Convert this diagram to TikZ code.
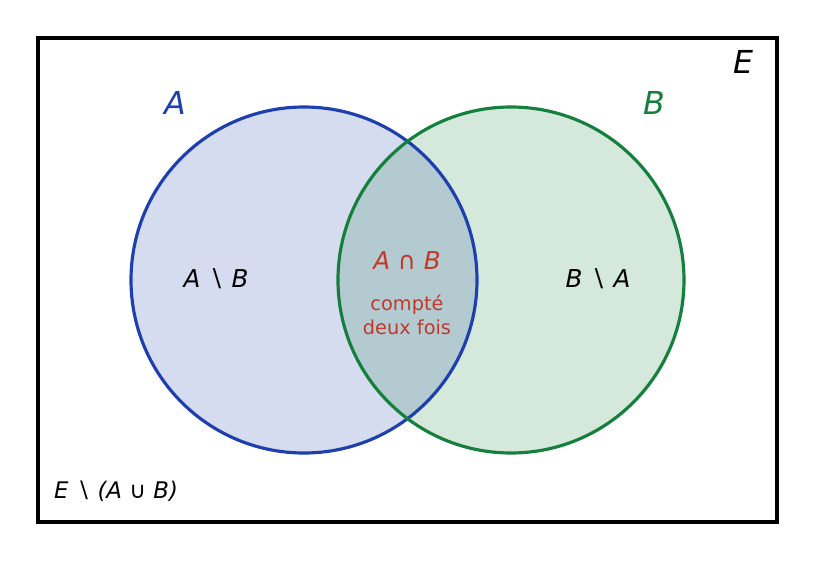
\documentclass[tikz,border=0pt]{standalone}
\usepackage{fontspec}
\setmainfont{DejaVu Sans}
\usetikzlibrary{positioning}
\definecolor{setA}{RGB}{30,64,175}
\definecolor{setB}{RGB}{21,128,61}
\definecolor{fillA}{RGB}{214,220,240}
\definecolor{fillB}{RGB}{213,232,220}
\definecolor{fillAB}{RGB}{179,203,208}
\definecolor{inter}{RGB}{192,57,43}
\tikzset{
  setlabel/.style={font=\fontsize{18}{20}\selectfont\itshape},
  partlabel/.style={font=\fontsize{14}{16}\selectfont\itshape},
}
\begin{document}
\begin{tikzpicture}[x=0.02cm,y=-0.02cm]
\useasboundingbox (0,0) rectangle (815,561);
% universe
\draw[line width=2.2pt] (38,38) rectangle (777,522);
% fills
\fill[fillA] (304,280) circle (173);
\fill[fillB] (511,280) circle (173);
\begin{scope}
\clip (304,280) circle (173);
\fill[fillAB] (511,280) circle (173);
\end{scope}
% outlines
\draw[setA, line width=1.8pt] (304,280) circle (173);
\draw[setB, line width=1.8pt] (511,280) circle (173);
% set names
\node[setlabel] (E) at (743,62) {E};
\node[setlabel, setA] (A) at (175,103) {A};
\node[setlabel, setB] (B) at (654,103) {B};
% regions
\node[partlabel] (AmB) at (216,279) {A ∖ B};
\node[partlabel] (BmA) at (598,279) {B ∖ A};
\node[partlabel, inter] (AnB) at (407,261) {A ∩ B};
\node[inter, align=center, font=\fontsize{11}{14}\selectfont] (twice) [below=0.25cm of AnB] {compté\\deux fois};
\node[partlabel, font=\fontsize{13}{16}\selectfont\itshape] (rest) at (116,491) {E ∖ (A ∪ B)};
\end{tikzpicture}
\end{document}
